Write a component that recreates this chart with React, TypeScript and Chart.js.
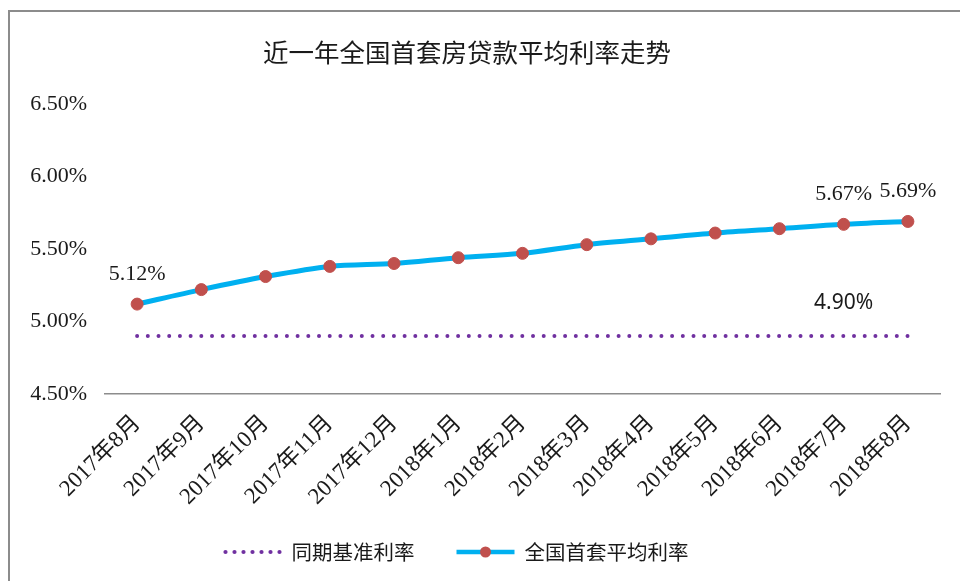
import React, { useEffect, useRef } from "react";
import { Chart, registerables } from "chart.js";

Chart.register(...registerables);

const chartTitle = "近一年全国首套房贷款平均利率走势";
const categories = [
  "2017年8月", "2017年9月", "2017年10月", "2017年11月", "2017年12月",
  "2018年1月", "2018年2月", "2018年3月", "2018年4月", "2018年5月",
  "2018年6月", "2018年7月", "2018年8月",
];
const baseRate = [4.9, 4.9, 4.9, 4.9, 4.9, 4.9, 4.9, 4.9, 4.9, 4.9, 4.9, 4.9, 4.9];
const avgRate = [5.12, 5.22, 5.31, 5.38, 5.4, 5.44, 5.47, 5.53, 5.57, 5.61, 5.64, 5.67, 5.69];
const seriesNames = ["同期基准利率", "全国首套平均利率"];
const avgLabelIndices = [0, 11, 12];
const baseLabelIndices = [11];
const yTickValues = [4.5, 5.0, 5.5, 6.0, 6.5];

const SERIF = "'Liberation Serif', 'Noto Sans CJK SC', serif";
const CJK = "'Noto Sans CJK SC', sans-serif";
const PURPLE = "#7030A0";
const BLUE = "#00B0F0";
const RED = "#C0504D";
const TEXT = "#1a1a1a";

const fmt = (v: number) => v.toFixed(2) + "%";

const overlayPlugin = {
  id: "overlay",
  afterDatasetsDraw(chart: any) {
    const ctx = chart.ctx as CanvasRenderingContext2D;
    ctx.save();
    ctx.textAlign = "center";
    ctx.textBaseline = "middle";
    ctx.fillStyle = TEXT;
    ctx.font = "22px " + SERIF;
    const avgMeta = chart.getDatasetMeta(1);
    avgLabelIndices.forEach((i) => {
      const p = avgMeta.data[i];
      ctx.fillText(fmt(avgRate[i]), p.x, p.y - 30);
    });
    ctx.font = "21px 'Noto Sans', sans-serif";
    const baseMeta = chart.getDatasetMeta(0);
    baseLabelIndices.forEach((i) => {
      const p = baseMeta.data[i];
      ctx.fillText(fmt(baseRate[i]), p.x, p.y - 33);
    });
    ctx.restore();
  },
  afterDraw(chart: any) {
    const ctx = chart.ctx as CanvasRenderingContext2D;
    ctx.save();
    // title
    ctx.fillStyle = TEXT;
    ctx.textAlign = "center";
    ctx.textBaseline = "middle";
    ctx.font = "25.5px " + CJK;
    ctx.fillText(chartTitle, 467, 52);

    // legend
    ctx.font = "20.5px " + CJK;
    const sampleW = 58;
    const gapText = 10;
    const gapItem = 42;
    const w1 = ctx.measureText(seriesNames[0]).width;
    const w2 = ctx.measureText(seriesNames[1]).width;
    const total = sampleW + gapText + w1 + gapItem + sampleW + gapText + w2;
    const cy = 552;
    let x = 456 - total / 2;
    // item 1: dotted
    ctx.fillStyle = PURPLE;
    for (let k = 0; k < 7; k++) {
      ctx.beginPath();
      ctx.arc(x + 2 + k * ((sampleW - 4) / 6), cy, 2.1, 0, Math.PI * 2);
      ctx.fill();
    }
    x += sampleW + gapText;
    ctx.fillStyle = TEXT;
    ctx.textAlign = "left";
    ctx.fillText(seriesNames[0], x, cy);
    x += w1 + gapItem;
    // item 2: line + marker
    ctx.strokeStyle = BLUE;
    ctx.lineWidth = 4.5;
    ctx.beginPath();
    ctx.moveTo(x, cy);
    ctx.lineTo(x + sampleW, cy);
    ctx.stroke();
    ctx.fillStyle = RED;
    ctx.beginPath();
    ctx.arc(x + sampleW / 2, cy, 5.5, 0, Math.PI * 2);
    ctx.fill();
    x += sampleW + gapText;
    ctx.fillStyle = TEXT;
    ctx.fillText(seriesNames[1], x, cy);
    ctx.restore();
  },
};

export default function App() {
  const canvasRef = useRef<HTMLCanvasElement | null>(null);

  useEffect(() => {
    const canvas = canvasRef.current;
    if (!canvas) return;
    const chart = new Chart(canvas, {
      type: "line",
      data: {
        labels: categories,
        datasets: [
          {
            label: seriesNames[0],
            data: baseRate,
            borderColor: PURPLE,
            borderWidth: 4,
            borderDash: [0, 10.7],
            borderCapStyle: "round",
            pointRadius: 0,
            pointHoverRadius: 0,
            tension: 0,
            fill: false,
          },
          {
            label: seriesNames[1],
            data: avgRate,
            borderColor: BLUE,
            borderWidth: 5,
            pointRadius: 6,
            pointHoverRadius: 6,
            pointBackgroundColor: RED,
            pointBorderColor: RED,
            pointBorderWidth: 1,
            tension: 0.3,
            fill: false,
          },
        ],
      },
      options: {
        responsive: false,
        animation: false,
        layout: { padding: { top: 104, right: 20, bottom: 0, left: 0 } },
        plugins: {
          legend: { display: false },
          title: { display: false },
          tooltip: { enabled: false },
        },
        scales: {
          x: {
            type: "category",
            offset: true,
            grid: { display: false, drawTicks: false },
            border: { display: true, color: "#8c8c8c", width: 1.5 },
            ticks: {
              autoSkip: false,
              maxRotation: 45,
              minRotation: 45,
              padding: 16,
              color: TEXT,
              font: { family: SERIF, size: 23 },
            },
            afterFit: (s: any) => {
              s.height = 187;
            },
          },
          y: {
            min: yTickValues[0],
            max: yTickValues[yTickValues.length - 1],
            afterBuildTicks: (s: any) => {
              s.ticks = yTickValues.map((v) => ({ value: v }));
            },
            grid: { display: false, drawTicks: false },
            border: { display: false },
            ticks: {
              padding: 18,
              color: TEXT,
              font: { family: SERIF, size: 22 },
              callback: (v: any) => fmt(Number(v)),
            },
            afterFit: (s: any) => {
              s.width = 105;
            },
          },
        },
      },
      plugins: [overlayPlugin],
    } as any);
    return () => chart.destroy();
  }, []);

  return (
    <div
      style={{
        position: "fixed",
        left: 0,
        top: 0,
        width: 960,
        height: 581,
        overflow: "hidden",
        background: "#ffffff",
      }}
    >
      <div
        style={{
          position: "absolute",
          left: 8,
          top: 10,
          width: 1000,
          height: 700,
          borderLeft: "2px solid #8c8c8c",
          borderTop: "2px solid #8c8c8c",
        }}
      />
      <canvas
        ref={canvasRef}
        width={960}
        height={581}
        style={{ position: "absolute", left: 0, top: 0, width: 960, height: 581 }}
      />
    </div>
  );
}
